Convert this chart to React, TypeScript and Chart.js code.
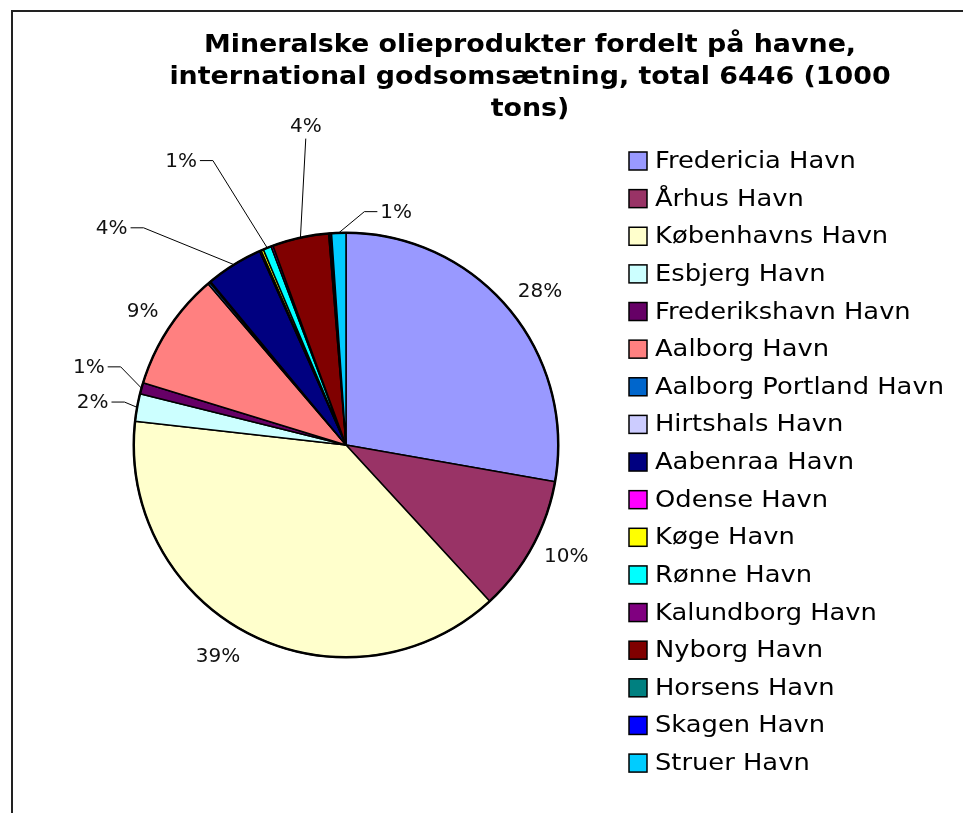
import React, { useEffect, useRef } from "react";
import { Chart, registerables } from "chart.js";

Chart.register(...registerables);

// ---- data ----
const TITLE_LINES = [
  "Mineralske olieprodukter fordelt på havne,",
  "international godsomsætning, total 6446 (1000",
  "tons)",
];
const PORTS = [
  "Fredericia Havn",
  "Århus Havn",
  "Københavns Havn",
  "Esbjerg Havn",
  "Frederikshavn Havn",
  "Aalborg Havn",
  "Aalborg Portland Havn",
  "Hirtshals Havn",
  "Aabenraa Havn",
  "Odense Havn",
  "Køge Havn",
  "Rønne Havn",
  "Kalundborg Havn",
  "Nyborg Havn",
  "Horsens Havn",
  "Skagen Havn",
  "Struer Havn",
];
const VALUES = [1790, 670, 2490, 135, 55, 580, 10, 6, 280, 8, 12, 40, 10, 276, 6, 8, 70];
const COLORS = [
  "#9999FF", "#993366", "#FFFFCC", "#CCFFFF", "#660066", "#FF8080", "#0066CC", "#CCCCFF",
  "#000080", "#FF00FF", "#FFFF00", "#00FFFF", "#800080", "#800000", "#008080", "#0000FF", "#00CCFF",
];
// label placement (polar, relative to pie): angle in degrees clockwise from top, distance in pie radii
const LABEL_PLACEMENT: ({ angle: number; dist: number; leader: boolean } | null)[] = [
  { angle: 51.7, dist: 1.165, leader: false },
  { angle: 117, dist: 1.165, leader: false },
  { angle: 211.1, dist: 1.168, leader: false },
  { angle: 279.4, dist: 1.21, leader: true },
  { angle: 286.7, dist: 1.265, leader: true },
  { angle: 303.2, dist: 1.145, leader: false },
  null,
  null,
  { angle: 312.7, dist: 1.502, leader: true },
  null,
  null,
  { angle: 329.8, dist: 1.545, leader: true },
  null,
  { angle: 352.8, dist: 1.512, leader: true },
  null,
  null,
  { angle: 12.2, dist: 1.12, leader: true },
];

const FONT = '"DejaVu Sans", Verdana, sans-serif';
const STRETCH = 1.12;

function wideText(ctx: CanvasRenderingContext2D, t: string, x: number, y: number) {
  ctx.save();
  ctx.translate(x, y);
  ctx.scale(STRETCH, 1);
  ctx.fillText(t, 0, 0);
  ctx.restore();
}

const decorPlugin = {
  id: "decor",
  afterDatasetsDraw(chart: any) {
    const ctx = chart.ctx as CanvasRenderingContext2D;
    const meta = chart.getDatasetMeta(0);
    const arc0 = meta.data[0] as any;
    const cx = arc0.x;
    const cy = arc0.y;
    const R = arc0.outerRadius;
    const total = VALUES.reduce((a, b) => a + b, 0);

    // outer ring
    ctx.save();
    ctx.beginPath();
    ctx.arc(cx, cy, R, 0, Math.PI * 2);
    ctx.lineWidth = 2.5;
    ctx.strokeStyle = "#000";
    ctx.stroke();
    ctx.restore();

    // data labels
    ctx.save();
    ctx.font = `20px ${FONT}`;
    ctx.fillStyle = "#111";
    ctx.textAlign = "center";
    ctx.textBaseline = "middle";
    meta.data.forEach((el: any, i: number) => {
      const p = LABEL_PLACEMENT[i];
      if (!p) return;
      const a = (p.angle * Math.PI) / 180;
      const lx = cx + Math.sin(a) * p.dist * R;
      const ly = cy - Math.cos(a) * p.dist * R;
      const text = Math.round((VALUES[i] / total) * 100) + "%";
      ctx.fillText(text, lx, ly);
      if (p.leader) {
        const mid = (el.startAngle + el.endAngle) / 2;
        const ax = cx + Math.cos(mid) * R;
        const ay = cy + Math.sin(mid) * R;
        const w = ctx.measureText(text).width;
        ctx.beginPath();
        ctx.lineWidth = 1;
        ctx.strokeStyle = "#000";
        if (Math.abs(ax - lx) < w / 2 + 4) {
          ctx.moveTo(lx, ly + 12);
          ctx.lineTo(ax, ay);
        } else if (ax > lx) {
          const sx = lx + w / 2 + 3;
          ctx.moveTo(sx, ly - 1);
          ctx.lineTo(sx + 13, ly - 1);
          ctx.lineTo(ax, ay);
        } else {
          const sx = lx - w / 2 - 3;
          ctx.moveTo(sx, ly - 1);
          ctx.lineTo(sx - 13, ly - 1);
          ctx.lineTo(ax, ay);
        }
        ctx.stroke();
      }
    });
    ctx.restore();
  },
  afterDraw(chart: any) {
    const ctx = chart.ctx as CanvasRenderingContext2D;
    const W = chart.width;
    const H = chart.height;
    ctx.save();
    // frame
    ctx.beginPath();
    ctx.moveTo(12, H);
    ctx.lineTo(12, 11);
    ctx.lineTo(W, 11);
    ctx.lineWidth = 2;
    ctx.strokeStyle = "#222";
    ctx.stroke();

    // title
    ctx.font = `bold 24px ${FONT}`;
    ctx.fillStyle = "#000";
    ctx.textAlign = "center";
    ctx.textBaseline = "alphabetic";
    TITLE_LINES.forEach((t, i) => wideText(ctx, t, 530, 52 + i * 32));

    // legend
    ctx.font = `23px ${FONT}`;
    ctx.textAlign = "left";
    PORTS.forEach((name, i) => {
      const y = 168 + i * 37.63;
      ctx.fillStyle = COLORS[i];
      ctx.fillRect(629, y - 16, 18, 18);
      ctx.lineWidth = 1.5;
      ctx.strokeStyle = "#000";
      ctx.strokeRect(629, y - 16, 18, 18);
      ctx.fillStyle = "#000";
      wideText(ctx, name, 655, y);
    });
    ctx.restore();
  },
};

export default function App() {
  const ref = useRef<HTMLCanvasElement | null>(null);
  useEffect(() => {
    if (!ref.current) return;
    const chart = new Chart(ref.current, {
      type: "pie",
      data: {
        labels: PORTS,
        datasets: [
          {
            data: VALUES,
            backgroundColor: COLORS,
            borderColor: "#000",
            borderWidth: 1.5,
            borderJoinStyle: "round",
          } as any,
        ],
      },
      options: {
        responsive: false,
        animation: false,
        layout: { padding: { left: 133, top: 232, right: 404, bottom: 155 } },
        plugins: {
          legend: { display: false },
          title: { display: false },
          tooltip: { enabled: false },
        },
      },
      plugins: [decorPlugin],
    });
    return () => chart.destroy();
  }, []);
  return (
    <div style={{ position: "fixed", left: 0, top: 0, width: 963, height: 813, background: "#fff" }}>
      <canvas ref={ref} width={963} height={813} style={{ display: "block" }} />
    </div>
  );
}
